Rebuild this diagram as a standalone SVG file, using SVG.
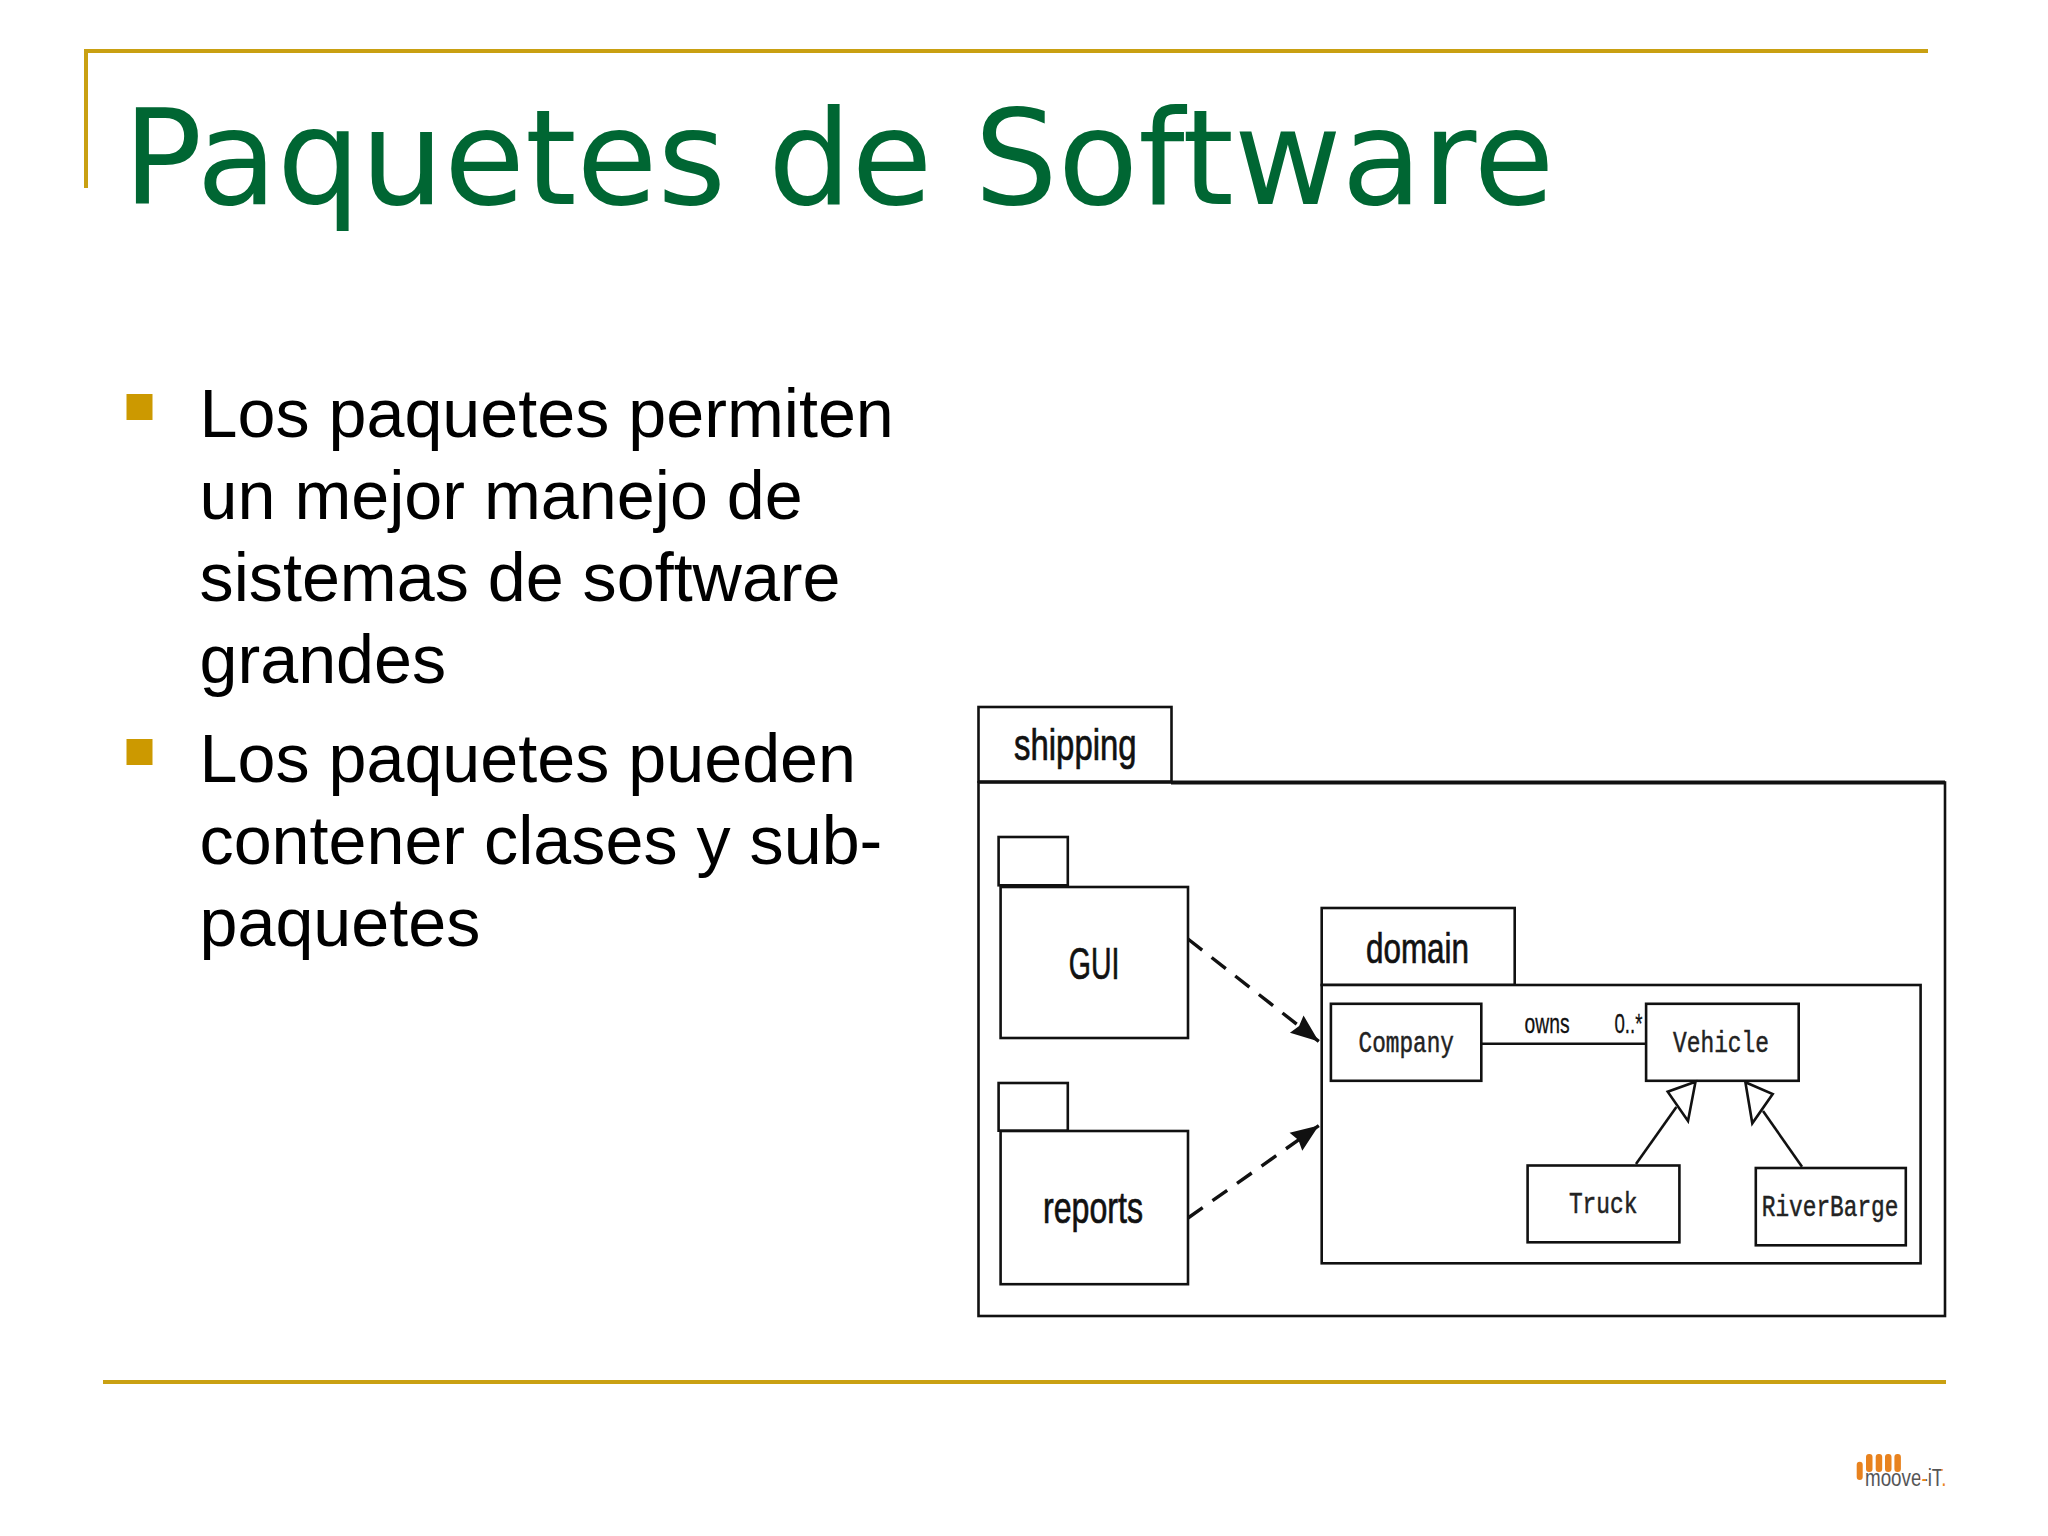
<svg xmlns="http://www.w3.org/2000/svg" width="2048" height="1536" viewBox="0 0 2048 1536">
<style>
.gold{fill:#c9a012}
.body{font-family:"Liberation Sans",Arial,sans-serif;font-size:68.25px;fill:#000}
.box{fill:#fff;stroke:#111;stroke-width:2.6}
.s{font-family:"Liberation Sans",Arial,sans-serif;fill:#111;stroke:#111;stroke-width:.7}
.m{font-family:"Liberation Mono",monospace;fill:#222;stroke:#222;stroke-width:.5}
.ln{fill:none;stroke:#111;stroke-width:2.6}
.dash{fill:none;stroke:#111;stroke-width:3.4;stroke-dasharray:18 12}
.bar{fill:#e8821e}
</style>
<defs>
<marker id="filled" markerUnits="userSpaceOnUse" markerWidth="30" markerHeight="28" refX="28" refY="14" orient="auto"><path d="M0 3L28 14L0 25L3 14Z" fill="#111"/></marker>
<linearGradient id="logotext" gradientUnits="userSpaceOnUse" x1="1865" y1="0" x2="1947" y2="0">
<stop offset="0" stop-color="#555"/><stop offset=".675" stop-color="#555"/><stop offset=".675" stop-color="#e8821e"/><stop offset=".744" stop-color="#e8821e"/><stop offset=".744" stop-color="#555"/><stop offset=".927" stop-color="#555"/><stop offset=".927" stop-color="#e8821e"/><stop offset="1" stop-color="#e8821e"/>
</linearGradient>
</defs>
<rect width="2048" height="1536" fill="#fff"/>
<g id="frame">
<rect class="gold" x="84" y="49" width="1844" height="4"/>
<rect class="gold" x="84" y="49" width="4" height="139"/>
<rect class="gold" x="103" y="1380" width="1843" height="4"/>
</g>
<g id="title"><text x="123" y="204" font-family="'DejaVu Sans',sans-serif" font-size="131.6" fill="#006633">Paquetes de Software</text></g>
<g id="bullets">
<rect x="126.500" y="394" width="26" height="26" fill="#cc9900"/>
<rect x="126.500" y="739" width="26" height="26" fill="#cc9900"/>
<text class="body" x="199.500" y="437">Los paquetes permiten</text>
<text class="body" x="199.500" y="519">un mejor manejo de</text>
<text class="body" x="199.500" y="601">sistemas de software</text>
<text class="body" x="199.500" y="683">grandes</text>
<text class="body" x="199.500" y="782">Los paquetes pueden</text>
<text class="body" x="199.500" y="864">contener clases y sub-</text>
<text class="body" x="199.500" y="946">paquetes</text>
</g>
<g id="shipping">
<rect class="box" x="978.500" y="782.500" width="966.500" height="533.500"/>
<rect class="box" x="978.500" y="707" width="193" height="74.500"/>
<path class="ln" d="M1171 782.500H1945" style="stroke-width:4"/>
<text class="s" x="1014" y="760" font-size="44" textLength="122.600" lengthAdjust="spacingAndGlyphs">shipping</text>
</g>
<g id="GUI">
<rect class="box" x="998.600" y="837" width="69.200" height="48.300"/>
<rect class="box" x="1000.600" y="887" width="187.400" height="151"/>
<text class="s" x="1068.800" y="979" font-size="44" textLength="50.600" lengthAdjust="spacingAndGlyphs">GUI</text>
</g>
<g id="reports">
<rect class="box" x="998.600" y="1083" width="69.200" height="47.700"/>
<rect class="box" x="1000.600" y="1131" width="187.400" height="153.200"/>
<text class="s" x="1043" y="1223" font-size="44" textLength="100" lengthAdjust="spacingAndGlyphs">reports</text>
</g>
<g id="domain">
<rect class="box" x="1321.700" y="908" width="193" height="77"/>
<rect class="box" x="1321.700" y="985" width="598.900" height="278.300"/>
<text class="s" x="1366" y="963" font-size="43" textLength="103" lengthAdjust="spacingAndGlyphs">domain</text>
</g>
<g id="Company">
<rect class="box" x="1330.900" y="1003.800" width="150.400" height="77"/>
<text class="m" x="1358.500" y="1051.700" font-size="30" textLength="95.500" lengthAdjust="spacingAndGlyphs">Company</text>
</g>
<g id="Vehicle">
<rect class="box" x="1646.100" y="1003.800" width="152.600" height="77"/>
<text class="m" x="1673" y="1051.700" font-size="30" textLength="96" lengthAdjust="spacingAndGlyphs">Vehicle</text>
</g>
<g id="Truck">
<rect class="box" x="1527.600" y="1165.500" width="151.800" height="76.800"/>
<text class="m" x="1568.900" y="1213.300" font-size="30" textLength="68.500" lengthAdjust="spacingAndGlyphs">Truck</text>
</g>
<g id="RiverBarge">
<rect class="box" x="1755.800" y="1168" width="150" height="77.300"/>
<text class="m" x="1761.800" y="1216" font-size="30" textLength="136.600" lengthAdjust="spacingAndGlyphs">RiverBarge</text>
</g>
<g id="connectors">
<path class="dash" d="M1188 939L1318.800 1041.400" marker-end="url(#filled)"/>
<path class="dash" d="M1188 1218L1318.800 1125.600" marker-end="url(#filled)"/>
<path class="ln" d="M1481.300 1043.800H1646.100"/>
<path class="ln" d="M1636 1164L1676.400 1107"/>
<path class="ln" d="M1802 1166.700L1763 1111"/>
<path class="ln" style="fill:#fff" d="M1695.500 1081.700L1667.700 1091.700L1688 1121Z"/>
<path class="ln" style="fill:#fff" d="M1745.400 1082.300L1772.700 1094L1752.300 1123.300Z"/>
<text class="s" x="1524.600" y="1033.300" font-size="28" textLength="45" lengthAdjust="spacingAndGlyphs" style="stroke-width:.3">owns</text>
<text class="s" x="1614.400" y="1033.300" font-size="28" textLength="28" lengthAdjust="spacingAndGlyphs" style="stroke-width:.3">0..*</text>
</g>
<g id="logo">
<rect class="bar" x="1856.700" y="1461.700" width="6" height="18.300" rx="3"/>
<rect class="bar" x="1866" y="1454" width="6.500" height="18" rx="3"/>
<rect class="bar" x="1875.700" y="1454" width="6.500" height="18" rx="3"/>
<rect class="bar" x="1885" y="1454" width="6.500" height="18" rx="3"/>
<rect class="bar" x="1894.400" y="1454" width="6.500" height="18" rx="3"/>
<text x="1865" y="1485.500" font-family="'Liberation Sans',sans-serif" font-size="23" fill="url(#logotext)" textLength="81.500" lengthAdjust="spacingAndGlyphs">moove-iT.</text>
</g>
</svg>
